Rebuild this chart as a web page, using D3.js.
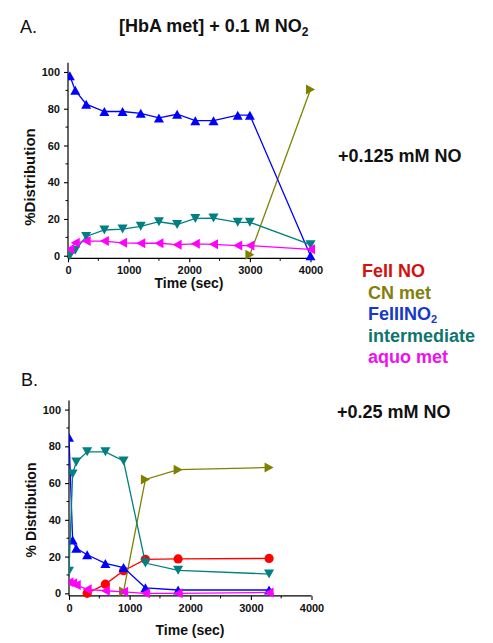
<!DOCTYPE html>
<html>
<head>
<meta charset="utf-8">
<script src="https://cdn.jsdelivr.net/npm/d3@7"></script>
<style>
  html, body { margin: 0; padding: 0; background: #fff; }
  svg text { font-family: "Liberation Sans", Arial, sans-serif; }
</style>
</head>
<body>
<svg id="chart" width="493" height="643"></svg>
<script>
// ---------- DATA ----------
const seriesNames = ["FeII NO", "CN met", "FeIIINO2", "intermediate", "aquo met"];
const xTicks = [0, 1000, 2000, 3000, 4000];
const yTicks = [0, 20, 40, 60, 80, 100];

// Panel A: [HbA met] + 0.1 M NO2 + 0.125 mM NO
const aNo2Time   = [30, 120, 300, 600, 900, 1200, 1500, 1800, 2100, 2400, 2800, 3000, 4000];
const aNo2Val    = [98, 90, 82.5, 78.5, 78.5, 77.5, 75, 77, 73.5, 73.5, 76.5, 76.5, 0];
const aInterTime = [30, 120, 300, 600, 900, 1200, 1500, 1800, 2100, 2400, 2800, 3000, 4000];
const aInterVal  = [0, 3, 10.5, 14, 14.5, 16, 18.5, 17, 20.3, 20.5, 18.2, 18.2, 6];
const aAquoTime  = [30, 120, 300, 600, 900, 1200, 1500, 1800, 2100, 2400, 2800, 3000, 4000];
const aAquoVal   = [3.5, 7, 8, 8, 7, 6.8, 6.8, 6, 6.5, 6.2, 5.5, 5.5, 3.5];
const aCnTime    = [3000, 4000];
const aCnVal     = [0.5, 90.5];

// Panel B: + 0.25 mM NO
const bNo2Time   = [0, 60, 120, 300, 600, 900, 1260, 1800, 3300];
const bNo2Val    = [85, 29, 24.5, 21, 16.3, 14, 3, 1.8, 1.8];
const bInterTime = [0, 60, 120, 300, 600, 900, 1260, 1800, 3300];
const bInterVal  = [12, 65, 71.5, 77, 77, 72, 16.5, 12.5, 10.5];
const bAquoTime  = [0, 60, 120, 300, 600, 900, 1260, 1800, 3300];
const bAquoVal   = [6, 5.5, 4.5, 2.2, 1.4, 0.8, 0, 0, 0.5];
const bFeNoTime  = [300, 600, 900, 1260, 1800, 3300];
const bFeNoVal   = [0, 5, 12.3, 18.5, 18.7, 19];
const bCnTime    = [900, 1260, 1800, 3300];
const bCnVal     = [1, 62, 67.3, 68.5];

// ---------- STYLE ----------
const colors = {"FeII NO": "#ff0000", "CN met": "#808000", "FeIIINO2": "#0000ff",
                "intermediate": "#008080", "aquo met": "#ff00ff"};
const legendColors = {"FeII NO": "#d41010", "CN met": "#82800e", "FeIIINO2": "#1838c8",
                      "intermediate": "#10756c", "aquo met": "#ee10ee"};
const shapes = {"FeII NO": "circle", "CN met": "right", "FeIIINO2": "up",
                "intermediate": "down", "aquo met": "left"};

const svg = d3.select("#chart");

function triPath(dir, w, h) {
  const a = w / 2, b = h / 2;
  if (dir === "up") return `M0,${-b}L${a},${b}L${-a},${b}Z`;
  if (dir === "down") return `M0,${b}L${a},${-b}L${-a},${-b}Z`;
  if (dir === "left") return `M${-b},0L${b},${-a}L${b},${a}Z`;
  return `M${b},0L${-b},${-a}L${-b},${a}Z`;
}

function panel(cfg) {
  const x = d3.scaleLinear().domain([0, 4000]).range([cfg.x0, cfg.x1]);
  const y = d3.scaleLinear().domain([-1.4, 105]).range([cfg.yBottom, cfg.yTop]);
  const g = svg.append("g");
  const clipId = "clip" + cfg.id;
  svg.append("defs").append("clipPath").attr("id", clipId)
    .append("rect").attr("x", cfg.x0).attr("y", cfg.yTop - 10)
    .attr("width", 200 + cfg.x1 - cfg.x0).attr("height", cfg.yBottom - cfg.yTop + 20);

  const yAxis = d3.axisLeft(y).tickValues(yTicks).tickSize(4).tickPadding(4).tickFormat(d3.format("d"));
  const ya = g.append("g").attr("transform", `translate(${cfg.x0},0)`).call(yAxis);
  const xAxis = d3.axisBottom(x).tickValues(xTicks).tickSize(4).tickPadding(4).tickFormat(d3.format("d"));
  const xa = g.append("g").attr("transform", `translate(0,${cfg.yBottom})`).call(xAxis);
  [ya, xa].forEach(a => {
    a.select(".domain").attr("stroke", "#000").attr("stroke-width", 1.2);
    a.selectAll(".tick line").attr("stroke", "#000").attr("stroke-width", 1.1);
    a.selectAll(".tick text").attr("font-size", 11).attr("font-weight", "bold").attr("fill", "#111")
      .style("font-family", '"Liberation Sans", Arial, sans-serif');
  });
  ya.select(".domain").attr("d", `M0,${y(-1.4)}V${y(105)}`);
  xa.select(".domain").attr("d", `M${cfg.x0},0H${cfg.x1}`);
  g.append("g").selectAll("line").data([10, 30, 50, 70, 90]).join("line")
    .attr("x1", cfg.x0).attr("x2", cfg.x0 - 2.5).attr("y1", d => y(d)).attr("y2", d => y(d))
    .attr("stroke", "#000").attr("stroke-width", 1);
  g.append("g").selectAll("line").data([500, 1500, 2500, 3500]).join("line")
    .attr("x1", d => x(d)).attr("x2", d => x(d)).attr("y1", cfg.yBottom).attr("y2", cfg.yBottom + 2.5)
    .attr("stroke", "#000").attr("stroke-width", 1);

  g.append("text").attr("transform", `translate(${cfg.ylabX},${cfg.ylabY}) rotate(-90)`)
    .attr("text-anchor", "middle").attr("font-weight", "bold").attr("font-size", cfg.ylabSize)
    .attr("fill", "#111").text(cfg.ylab);
  g.append("text").attr("x", cfg.xlabX).attr("y", cfg.xlabY)
    .attr("text-anchor", "middle").attr("font-weight", "bold").attr("font-size", 14)
    .attr("fill", "#111").text("Time (sec)");

  const plot = g.append("g").attr("clip-path", `url(#${clipId})`);
  const line = d3.line().x(d => x(d[0])).y(d => y(d[1]));
  cfg.series.forEach(s => {
    const pts = d3.zip(s.t, s.v);
    const c = colors[s.name];
    plot.append("path").datum(pts).attr("d", line).attr("fill", "none")
      .attr("stroke", c).attr("stroke-width", 1.3);
    const sh = shapes[s.name];
    if (sh === "circle") {
      plot.append("g").selectAll("circle").data(pts).join("circle")
        .attr("cx", d => x(d[0])).attr("cy", d => y(d[1])).attr("r", 4.6).attr("fill", c);
    } else {
      plot.append("g").selectAll("path").data(pts).join("path")
        .attr("transform", d => `translate(${x(d[0])},${y(d[1])})`)
        .attr("d", triPath(sh, 10, 9)).attr("fill", c);
    }
  });
}

panel({
  id: "A", x0: 68, x1: 310.5, yTop: 62.8, yBottom: 258.3,
  ylab: "%Distribution", ylabX: 35, ylabY: 177, ylabSize: 15,
  xlabX: 189, xlabY: 288,
  series: [
    {name: "CN met", t: aCnTime, v: aCnVal},
    {name: "FeIIINO2", t: aNo2Time, v: aNo2Val},
    {name: "intermediate", t: aInterTime, v: aInterVal},
    {name: "aquo met", t: aAquoTime, v: aAquoVal}
  ]
});

panel({
  id: "B", x0: 69, x1: 311.5, yTop: 400.4, yBottom: 595.9,
  ylab: "% Distribution", ylabX: 36, ylabY: 510, ylabSize: 14,
  xlabX: 190, xlabY: 635,
  series: [
    {name: "FeII NO", t: bFeNoTime, v: bFeNoVal},
    {name: "CN met", t: bCnTime, v: bCnVal},
    {name: "FeIIINO2", t: bNo2Time, v: bNo2Val},
    {name: "intermediate", t: bInterTime, v: bInterVal},
    {name: "aquo met", t: bAquoTime, v: bAquoVal}
  ]
});

// ---------- TEXT ----------
svg.append("text").attr("x", 20).attr("y", 33).attr("font-size", 18).attr("fill", "#111").text("A.");
svg.append("text").attr("x", 21).attr("y", 386).attr("font-size", 18).attr("fill", "#111").text("B.");

const title = svg.append("text").attr("x", 119).attr("y", 32).attr("font-size", 18)
  .attr("font-weight", "bold").attr("fill", "#111");
title.append("tspan").text("[HbA met] + 0.1 M NO");
title.append("tspan").attr("font-size", 12).attr("dy", 4).text("2");

svg.append("text").attr("x", 338).attr("y", 162).attr("font-size", 18)
  .attr("font-weight", "bold").attr("fill", "#111").text("+0.125 mM NO");
svg.append("text").attr("x", 337).attr("y", 418).attr("font-size", 18)
  .attr("font-weight", "bold").attr("fill", "#111").text("+0.25 mM NO");

const legendY = [277, 299, 320, 342, 363];
const legendX = [362, 368, 368, 368, 368];
seriesNames.forEach((n, i) => {
  const t = svg.append("text").attr("x", legendX[i]).attr("y", legendY[i]).attr("font-size", 18)
    .attr("font-weight", "bold").attr("fill", legendColors[n]);
  if (n === "FeIIINO2") {
    t.append("tspan").text("FeIIINO");
    t.append("tspan").attr("font-size", 11).attr("dy", 3).text("2");
  } else {
    t.text(n);
  }
});
</script>
</body>
</html>
